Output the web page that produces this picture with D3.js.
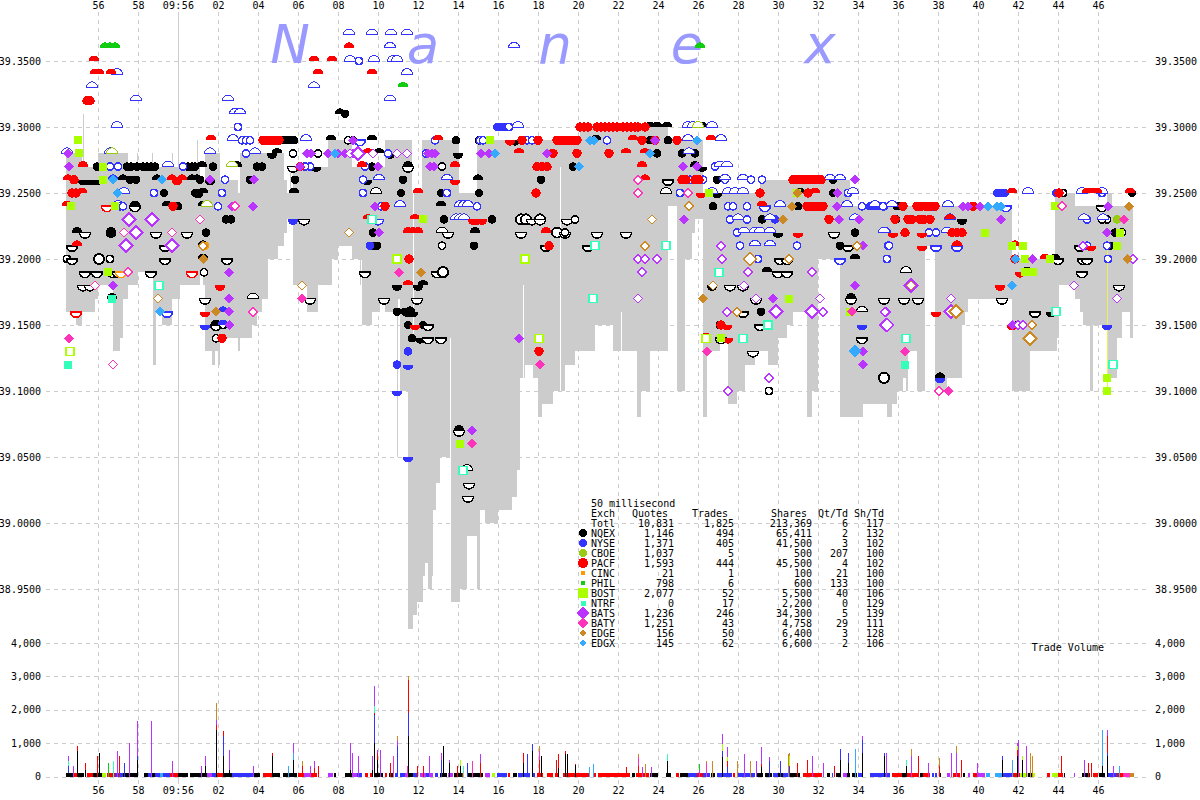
<!DOCTYPE html>
<html><head><meta charset="utf-8"><style>
html,body{margin:0;padding:0;background:#fff}
svg{display:block}
text{font-family:"DejaVu Sans Mono",monospace;font-size:10px;fill:#000}
</style>
<script src="https://cdn.jsdelivr.net/npm/d3@7/dist/d3.min.js"></script></head><body><svg id="c" width="1200" height="800"></svg>
<script>
// x data unit: 50 ms buckets, y data unit: cents above 39.00
const priceTicks=[39.35,39.30,39.25,39.20,39.15,39.10,39.05,39.00,38.95];
const volumeTicks=[0,1000,2000,3000,4000];
const timeTickLabels=["56","58","09:56","02","04","06","08","10","12","14","16","18","20","22","24","26","28","30","32","34","36","38","40","42","44","46"];
const timeTickBuckets=[38,78,118,158,198,238,278,318,358,398,438,478,518,558,598,638,678,718,758,798,838,878,918,958,998,1038];
const brandLetters=["N","a","n","e","x"];
const brandBuckets=[230,363,495,627,760];

const bandStart=[6,16,22,35,38,53,60,63,68,78,93,96,102,112,120,140,143,145,152,155,158,160,178,180,192,197,202,208,218,224,227,233,247,258,268,272,278,292,302,312,320,325,338,340,348,352,353,357,362,363,365,368,372,373,376,380,385,390,399,400,407,417,418,420,425,438,452,457,460,465,473,478,482,493,505,515,520,535,553,577,581,590,608,617,625,632,635,643,647,660,668,677,685,695,700,708,718,727,733,747,752,758,767,780,790,803,820,827,832,837,843,846,848,857,865,875,887,902,905,908,952,970,990,995,997,999,1015,1020,1023,1030,1033,1047,1052,1057,1062,1070];
const bandHigh=[28,28,27,27,28,28,28,28,27,27,27,27,27,27,27,26,26,28,28,28,28,26,25,28,28,28,28,28,28,26,25,27,27,27,29,29,29,27,27,27,27,29,29,29,29,25,25,25,29,29,29,29,29,29,29,29,29,29,25,25,25,25,29,29,29,29,29,29,29,29,29,29,29,29,29,29,30,30,30,30,30,30,29,29,29,29,29,25,25,25,25,25,25,25,26,26,26,26,26,26,26,26,26,26,24,24,24,24,24,24,24,24,24,24,24,24,24,24,24,24,20,20,20,25,25,25,24,24,24,24,24,25,24,24,24,24];
const bandLow=[16,15,16,17,18,13,14,17,18,19,12,16,15,17,18,19,18,13,12,13,12,14,13,14,15,16,17,20,21,22,23,18,16,18,18,20,21,20,15,16,17,16,17,10,-8,-8,-7,-6,-6,-4,-3,-5,-4,1,3,5,5,-6,-6,-5,-1,-5,-5,1,0,1,2,4,11,12,11,8,9,10,12,13,13,15,13,8,10,13,24,10,20,22,23,8,13,14,9,10,12,13,13,12,14,15,16,8,10,20,20,8,8,9,9,8,9,10,11,10,13,10,21,10,11,15,16,17,10,13,13,13,14,18,17,16,15,10,15,11,11,14,16,14];
const spikeBucket=[23,77,92,112,137,337,230,300,417];
const spikeHigh=[31,28,28,28,29,29,27,27,29];
const spikeLow=[27,26,26,26,26,5,24,18,18];
const gapBucket=[390,463,353,500,561];
const gapHigh=[14,18,25,27,16];
const gapLow=[-6,11,14,10,9];
const highlightBucket=[1047];
const highlightHigh=[21];
const highlightLow=[10];

const NQEX=[[222,29,'f'],[226,29,'f'],[230,29,'f'],[234,29,'f'],[271,29,'u'],[293,29,'o'],[233,28,'o'],[258,28,'o'],[212,28,'d'],[217,28,'u'],[37,27,'f'],[67,27,'f'],[71,27,'f'],[77,27,'f'],[83,27,'f'],[87,27,'f'],[91,27,'f'],[95,27,'f'],[128,27,'f'],[132,27,'f'],[135,27,'f'],[142,27,'u'],[153,27,'f'],[177,27,'u'],[197,27,'f'],[202,27,'f'],[233,27,'D'],[256,27,'d'],[23,26,'d'],[27,26,'d'],[30,26,'d'],[34,26,'d'],[37,26,'d'],[63,26,'u'],[70,26,'f'],[76,26,'f'],[97,26,'u'],[117,26,'d'],[132,26,'u'],[137,26,'u'],[140,26,'f'],[150,26,'d'],[190,26,'f'],[235,26,'f'],[135,25,'f'],[139,25,'f'],[143,25,'u'],[104,25,'f'],[234,25,'u'],[138,25,'d'],[75,24,'u'],[75,24,'D'],[107,24,'u'],[118,24,'f'],[143,24,'u'],[166,23,'f'],[171,23,'f'],[244,23,'D'],[17,22,'u'],[25,22,'D'],[51,22,'u'],[51,22,'d'],[96,22,'D'],[127,22,'D'],[146,22,'f'],[12,21,'D'],[105,21,'D'],[143,21,'u'],[7,20,'o'],[12,20,'D'],[39,20,'R'],[50,20,'o'],[105,20,'D'],[143,20,'u'],[167,20,'D'],[25,19,'D'],[37,19,'D'],[53,19,'D'],[58,19,'D'],[91,19,'D'],[144,19,'o'],[23,18,'D'],[30,18,'D'],[52,17,'u'],[145,17,'D'],[193,17,'U'],[250,17,'D'],[156,15,'u'],[156,15,'D'],[163,15,'o'],[156,14,'o'],
[285,31,'f'],[280,31,'u'],[288,29,'o'],[312,29,'u'],[396,29,'f'],[419,29,'o'],[450,29,'d'],[455,29,'d'],[536,29,'u'],[319,28,'u'],[330,28,'d'],[398,28,'d'],[312,27,'f'],[348,27,'u'],[348,27,'D'],[382,27,'o'],[513,27,'f'],[307,26,'d'],[343,26,'f'],[418,26,'u'],[481,26,'f'],[316,25,'U'],[341,25,'f'],[381,25,'f'],[419,25,'f'],[381,24,'u'],[384,23,'f'],[432,23,'f'],[461,23,'R'],[466,23,'R'],[472,23,'D'],[480,23,'R'],[480,23,'D'],[507,23,'D'],[515,23,'o'],[313,22,'f'],[382,22,'U'],[388,22,'D'],[415,22,'u'],[461,22,'D'],[497,22,'R'],[505,22,'D'],[505,22,'o'],[537,22,'D'],[566,22,'D'],[313,21,'f'],[317,21,'f'],[382,21,'o'],[414,21,'f'],[486,21,'D'],[528,21,'D'],[305,19,'D'],[377,19,'D'],[383,19,'R'],[358,18,'d'],[363,18,'u'],[337,18,'d'],[324,17,'D'],[357,17,'D'],[337,16,'f'],[348,16,'d'],[353,16,'d'],[350,16,'u'],[350,16,'d'],[345,16,'f'],[348,15,'f'],[363,15,'f'],[368,15,'D'],[352,14,'f'],[360,14,'d'],[368,14,'D'],[381,14,'D'],[399,7,'u'],[399,7,'D'],[407,4,'U'],[409,3,'D'],[408,2,'D'],
[590,30,'u'],[597,30,'u'],[607,30,'u'],[642,30,'u'],[590,29,'f'],[608,29,'f'],[597,28,'f'],[622,28,'f'],[635,28,'f'],[642,27,'d'],[635,27,'u'],[608,26,'D'],[657,26,'f'],[773,26,'f'],[740,26,'f'],[606,25,'U'],[657,25,'d'],[740,25,'u'],[773,25,'f'],[653,24,'f'],[738,24,'f'],[837,24,'f'],[702,23,'f'],[718,22,'d'],[795,22,'f'],[774,22,'D'],[780,21,'f'],[788,21,'D'],[795,20,'u'],[720,20,'D'],[727,20,'D'],[780,20,'D'],[707,19,'u'],[718,19,'D'],[727,19,'D'],[652,18,'d'],[670,18,'D'],[683,18,'D'],[696,17,'D'],[791,17,'u'],[791,17,'D'],[824,17,'D'],[683,16,'D'],[701,16,'f'],[802,16,'U'],[660,15,'o'],[700,15,'D'],[707,15,'o'],[661,14,'D'],[802,14,'D'],[693,13,'D'],[824,11,'R'],[709,10,'o'],
[838,24,'f'],[836,23,'f'],[902,23,'d'],[846,19,'U'],[844,17,'D'],[858,17,'D'],[942,17,'D'],[975,16,'D'],[991,16,'d'],[957,15,'f'],[963,15,'f'],[880,11,'u'],[995,20,'u'],[998,20,'D'],[1023,20,'D'],[1027,20,'D'],[1022,19,'D'],[967,19,'u'],[1042,24,'D'],[1003,25,'o'],[1072,25,'f'],[1047,23,'o'],[1042,23,'o'],[1055,22,'f'],[1062,22,'o'],[1050,21,'f'],[1020,21,'D'],[1059,18,'D']];
const NYSE=[[32,33,'U'],[76,32,'U'],[168,32,'U'],[175,31,'U'],[180,31,'U'],[178,30,'o'],[57,34,'U'],[57,30,'U'],[254,33,'U'],[173,29,'U'],[182,29,'o'],[186,29,'o'],[190,29,'o'],[246,29,'U'],[7,28,'U'],[50,28,'U'],[150,28,'U'],[186,28,'o'],[195,28,'U'],[50,27,'o'],[58,27,'o'],[108,27,'U'],[123,27,'o'],[250,27,'o'],[245,27,'o'],[53,26,'u'],[165,26,'o'],[64,25,'U'],[94,25,'o'],[162,25,'o'],[58,24,'U'],[60,24,'o'],[63,24,'o'],[158,24,'o'],[233,23,'d'],[107,16,'D'],[163,16,'u'],[145,15,'d'],[163,15,'u'],
[289,37,'U'],[312,37,'U'],[331,37,'U'],[347,37,'U'],[330,36,'U'],[454,36,'U'],[290,35,'U'],[299,35,'o'],[314,35,'U'],[333,35,'U'],[337,35,'U'],[347,34,'U'],[330,32,'U'],[437,30,'f'],[441,30,'f'],[445,30,'f'],[449,30,'o'],[458,30,'U'],[563,30,'o'],[300,29,'D'],[375,29,'o'],[420,29,'o'],[423,29,'o'],[467,29,'o'],[472,29,'o'],[547,29,'o'],[328,28,'o'],[366,28,'o'],[305,27,'o'],[303,26,'o'],[319,26,'U'],[387,26,'U'],[303,25,'o'],[387,25,'o'],[321,24,'o'],[340,24,'U'],[400,24,'U'],[404,24,'U'],[408,24,'U'],[417,24,'o'],[318,23,'D'],[396,23,'U'],[400,23,'U'],[404,23,'U'],[310,21,'f'],[348,13,'f'],[337,12,'f'],[348,12,'d'],[337,10,'d'],[348,5,'d'],
[628,30,'U'],[633,30,'U'],[652,30,'U'],[628,29,'U'],[661,29,'U'],[629,28,'U'],[655,27,'o'],[660,27,'U'],[667,27,'U'],[630,26,'o'],[643,26,'o'],[665,26,'o'],[665,26,'U'],[683,26,'U'],[691,26,'o'],[702,26,'o'],[770,26,'U'],[780,26,'U'],[620,25,'o'],[652,25,'U'],[668,25,'U'],[675,25,'U'],[683,25,'U'],[788,25,'o'],[793,25,'U'],[668,24,'o'],[673,24,'o'],[687,24,'o'],[720,24,'U'],[787,24,'U'],[705,24,'D'],[802,24,'o'],[810,24,'f'],[814,24,'f'],[818,24,'f'],[822,24,'f'],[824,24,'o'],[815,24,'U'],[670,23,'o'],[687,23,'o'],[678,23,'U'],[715,23,'f'],[710,23,'U'],[795,23,'U'],[677,22,'o'],[684,22,'U'],[695,22,'U'],[700,22,'U'],[710,22,'U'],[825,22,'U'],[680,21,'o'],[695,21,'U'],[710,21,'U'],[737,21,'o'],[828,21,'o'],[698,20,'o'],[780,20,'D'],[827,20,'o'],[802,15,'d'],
[937,25,'f'],[941,25,'f'],[945,25,'f'],[968,25,'U'],[996,25,'f'],[1022,25,'U'],[1042,25,'o'],[1042,25,'U'],[823,24,'o'],[832,24,'U'],[872,24,'o'],[888,24,'U'],[946,24,'D'],[890,23,'U'],[1027,23,'o'],[1043,23,'U'],[1024,23,'U'],[824,22,'U'],[869,22,'o'],[876,22,'o'],[887,22,'U'],[829,21,'o'],[876,21,'D'],[897,21,'D'],[1027,21,'o'],[1047,21,'o'],[827,20,'o'],[1048,20,'o'],[1047,15,'d'],[880,11,'d']];
const CBOE=[[52,28,'U'],[172,27,'U'],[147,24,'U'],[638,30,'U'],[1057,23,'f']];
const PACF=[[34,35,'u'],[254,35,'u'],[272,35,'u'],[35,34,'u'],[39,34,'u'],[51,34,'u'],[258,34,'u'],[27,32,'f'],[30,32,'f'],[151,29,'u'],[203,29,'f'],[207,29,'f'],[211,29,'f'],[215,29,'f'],[219,29,'f'],[23,27,'u'],[240,27,'f'],[8,26,'u'],[14,26,'f'],[112,26,'u'],[117,26,'d'],[122,26,'u'],[12,25,'f'],[16,25,'f'],[22,25,'u'],[7,24,'u'],[113,24,'f'],[47,24,'D'],[17,21,'u'],[132,19,'D'],[160,18,'d'],[16,16,'D'],[145,16,'d'],[162,14,'f'],
[289,36,'u'],[312,34,'u'],[520,30,'f'],[524,30,'f'],[528,30,'f'],[537,30,'f'],[541,30,'f'],[545,30,'f'],[549,30,'f'],[553,30,'f'],[557,30,'f'],[563,30,'f'],[567,30,'f'],[571,30,'f'],[575,30,'f'],[578,30,'f'],[378,29,'u'],[450,29,'d'],[462,29,'f'],[478,29,'f'],[497,29,'f'],[501,29,'f'],[505,29,'f'],[509,29,'f'],[513,29,'f'],[517,29,'f'],[573,29,'u'],[308,28,'u'],[459,28,'u'],[493,28,'f'],[517,28,'f'],[549,28,'f'],[566,28,'u'],[302,27,'u'],[395,27,'u'],[477,27,'f'],[482,27,'f'],[487,27,'f'],[395,26,'d'],[358,25,'u'],[476,25,'f'],[325,24,'f'],[308,23,'u'],[355,23,'u'],[413,23,'d'],[417,23,'d'],[422,23,'d'],[348,22,'u'],[353,22,'u'],[358,22,'u'],[486,22,'u'],[489,21,'f'],[349,20,'f'],[348,18,'u'],[355,15,'d'],[479,13,'f'],
[585,30,'f'],[582,29,'f'],[595,29,'f'],[617,29,'f'],[651,29,'u'],[585,28,'u'],[582,27,'u'],[585,26,'u'],[622,26,'f'],[626,26,'f'],[635,26,'f'],[639,26,'f'],[733,26,'f'],[737,26,'f'],[741,26,'f'],[745,26,'f'],[749,26,'f'],[753,26,'f'],[757,26,'f'],[761,26,'f'],[641,25,'d'],[700,25,'f'],[748,25,'f'],[755,25,'u'],[702,24,'u'],[747,24,'f'],[751,24,'f'],[755,24,'f'],[759,24,'f'],[763,24,'f'],[769,23,'f'],[835,23,'f'],[738,22,'d'],[833,22,'d'],[667,15,'d'],[661,15,'f'],[668,14,'d'],[646,14,'u'],
[952,25,'u'],[999,25,'f'],[1027,25,'u'],[1032,25,'u'],[1037,25,'u'],[1070,25,'u'],[843,24,'f'],[857,24,'f'],[861,24,'f'],[866,24,'f'],[870,24,'f'],[875,24,'f'],[913,24,'f'],[848,23,'f'],[852,23,'f'],[860,23,'f'],[864,23,'f'],[870,23,'f'],[890,23,'u'],[833,22,'d'],[845,22,'f'],[862,22,'d'],[892,22,'f'],[897,22,'f'],[902,22,'f'],[862,21,'d'],[897,21,'u'],[955,21,'u'],[1031,21,'d'],[955,20,'f'],[985,20,'u'],[960,19,'d'],[940,18,'d'],[876,16,'d'],[952,15,'d']];
const CINC=[[61,19,'D'],[145,21,'f']];
const PHIL=[[45,36,'u'],[50,36,'u'],[55,36,'u'],[343,33,'u'],[640,36,'u']];
const BOST=[[19,28,'f'],[18,29,'f'],[43,27,'f'],[43,26,'f'],[11,24,'f'],[55,24,'f'],[48,19,'f'],[10,13,'o'],[430,29,'f'],[363,23,'f'],[337,20,'o'],[465,20,'o'],[400,6,'f'],[479,14,'o'],[649,25,'f'],[737,25,'f'],[729,17,'f'],[790,16,'f'],[646,14,'o'],[661,14,'f'],[925,22,'f'],[995,24,'f'],[952,21,'f'],[963,21,'f'],[965,20,'f'],[990,20,'f'],[965,19,'f'],[973,19,'f'],[1057,21,'f'],[1047,11,'f'],[1047,10,'f'],[1060,22,'f']];
const NTRF=[[52,17,'f'],[8,12,'f'],[99,18,'o'],[312,23,'o'],[403,4,'o'],[535,21,'o'],[533,17,'o'],[606,21,'o'],[659,19,'o'],[708,15,'o'],[683,14,'o'],[846,14,'o'],[845,12,'f'],[996,16,'o'],[1053,12,'o']];
const BATS=[[8,28,'f'],[9,27,'f'],[194,26,'f'],[172,24,'f'],[193,24,'f'],[169,19,'f'],[53,18,'f'],[169,17,'f'],[169,16,'f'],[169,15,'f'],[240,27,'f'],[293,29,'f'],[247,28,'f'],[251,28,'f'],[268,28,'f'],[278,28,'f'],[293,28,'f'],[150,26,'f'],[459,14,'f'],[412,7,'f'],[92,23,'O'],[69,23,'O'],[76,22,'O'],[66,21,'O'],[112,21,'O'],
[285,28,'f'],[290,28,'o'],[298,28,'O'],[313,28,'o'],[337,28,'o'],[347,28,'o'],[368,28,'f'],[372,28,'f'],[375,28,'f'],[421,28,'f'],[429,28,'f'],[487,28,'f'],[318,27,'f'],[370,27,'f'],[374,27,'f'],[315,24,'f'],[319,22,'f'],[578,20,'o'],[578,17,'o'],
[595,29,'f'],[623,27,'f'],[637,27,'f'],[795,26,'f'],[777,24,'f'],[624,23,'f'],[779,23,'f'],[799,23,'f'],[777,25,'f'],[803,21,'f'],[661,21,'o'],[662,20,'o'],[585,20,'o'],[597,20,'o'],[582,19,'o'],[688,19,'o'],[752,19,'o'],[684,18,'o'],[795,18,'f'],[696,17,'o'],[760,17,'o'],[713,17,'f'],[667,16,'o'],[716,16,'O'],[752,16,'O'],[763,16,'o'],[826,16,'o'],[826,15,'O'],[803,13,'f'],[803,12,'f'],[709,11,'o'],[668,10,'o'],
[903,24,'f'],[908,24,'f'],[920,24,'f'],[1048,24,'f'],[941,23,'f'],[1047,22,'f'],[972,20,'f'],[1014,18,'o'],[851,18,'O'],[891,17,'o'],[1057,17,'o'],[891,16,'O'],[827,15,'O'],[952,15,'f'],[958,15,'o'],[963,15,'o'],[825,16,'o'],[1073,20,'o'],[1023,21,'o']];
const BATY=[[9,14,'f'],[53,12,'o'],[68,19,'o'],[175,24,'o'],[242,17,'f'],[140,23,'o'],[112,22,'o'],[64,22,'o'],[35,18,'o'],[193,16,'o'],[578,26,'o'],[578,25,'o'],[339,19,'f'],[480,12,'f'],[412,6,'f'],[628,25,'o'],[647,13,'f'],[792,16,'f'],[845,13,'f'],[879,10,'o'],[888,10,'f'],[1002,24,'o'],[1064,23,'f']];
const EDGE=[[143,20,'f'],[289,22,'o'],[242,18,'o'],[98,17,'o'],[143,21,'o'],[156,16,'f'],[361,19,'f'],[592,23,'o'],[585,21,'o'],[737,25,'f'],[732,24,'f'],[653,18,'o'],[723,23,'f'],[629,24,'o'],[690,20,'O'],[729,20,'o'],[643,17,'f'],[677,16,'o'],[797,21,'o'],[851,18,'o'],[896,16,'O'],[972,15,'o'],[970,14,'O'],[1069,24,'f'],[1067,20,'f']];
const EDGX=[[275,28,'f'],[57,25,'f'],[53,26,'f'],[102,26,'f'],[435,28,'f'],[100,16,'f'],[530,29,'f'],[534,29,'f'],[519,27,'f'],[637,29,'f'],[590,28,'f'],[795,13,'L'],[928,24,'f'],[937,24,'f'],[941,24,'f'],[952,18,'f'],[955,20,'f']];

const legendExch=["NQEX","NYSE","CBOE","PACF","CINC","PHIL","BOST","NTRF","BATS","BATY","EDGE","EDGX"];
const legendQuotes=["1,146","1,371","1,037","1,593","21","798","2,077","0","1,236","1,251","156","145"];
const legendTrades=["494","405","5","444","1","6","52","17","246","43","50","62"];
const legendShares=["65,411","41,500","500","45,500","100","600","5,500","2,200","34,300","4,758","6,400","6,600"];
const legendQtTd=["2","3","207","4","21","133","40","0","5","29","3","2"];
const legendShTd=["132","102","100","102","100","100","106","129","139","111","128","106"];
const totalRow=["Totl","10,831","1,825","213,369","6","117"];

const exColor={NQEX:"#000000",NYSE:"#3333ff",CBOE:"#99cc11",PACF:"#ff0000",CINC:"#ff9900",PHIL:"#11cc11",BOST:"#aaff00",NTRF:"#33ffbb",BATS:"#bb33ff",BATY:"#ff33bb",EDGE:"#cc8822",EDGX:"#33aaff"};
const exShape={NQEX:"c",NYSE:"c",CBOE:"c",PACF:"c",CINC:"c",PHIL:"c",BOST:"s",NTRF:"s",BATS:"d",BATY:"d",EDGE:"d",EDGX:"d"};
const legendSize={NQEX:4,NYSE:4,CBOE:4,PACF:5,CINC:2.5,PHIL:2.5,BOST:5,NTRF:2.5,BATS:6.5,BATY:5.5,EDGE:3.5,EDGX:3.5};

// baseline 100-share runs: start, end, exchange
const baseRuns=[[6,13,"NQEX"],[13,17,"PACF"],[17,24,"NQEX"],[27,33,"PACF"],[33,42,"NQEX"],[42,46,"BOST"],[47,55,"PACF"],[55,63,"NYSE"],[63,78,"NQEX"],[84,88,"NQEX"],[88,92,"NYSE"],[92,95,"NQEX"],[95,100,"NYSE"],[100,103,"EDGX"],[103,110,"NYSE"],[110,118,"PACF"],[118,128,"NQEX"],[130,133,"NQEX"],[133,140,"NQEX"],[140,147,"NQEX"],[147,152,"BATS"],[152,157,"NYSE"],[157,163,"PACF"],[163,172,"NQEX"],[172,193,"NYSE"],[193,200,"NQEX"],[203,212,"PACF"],[212,220,"NQEX"],[223,237,"NQEX"],[238,244,"PACF"],[244,250,"BATS"],[250,257,"PACF"],[258,259,"PACF"],[268,273,"BATS"],[274,276,"NQEX"],[285,292,"NQEX"],[292,297,"BATS"],[297,302,"NYSE"],[305,308,"PACF"],[310,313,"PACF"],[315,323,"NQEX"],[325,327,"PACF"],[329,333,"NQEX"],[335,338,"NYSE"],[340,345,"NYSE"],[345,347,"BATS"],[347,353,"NQEX"],[353,357,"NYSE"],[360,366,"BATS"],[366,370,"NYSE"],[370,373,"BATS"],[375,378,"NYSE"],[380,387,"NQEX"],[388,393,"BATS"],[394,402,"NQEX"],[402,404,"PACF"],[407,412,"NQEX"],[413,420,"NQEX"],[421,423,"NQEX"],[425,430,"BATS"],[432,435,"BOST"],[437,447,"NYSE"],[448,450,"PACF"],[453,457,"NQEX"],[458,463,"NYSE"],[463,470,"NYSE"],[473,475,"NYSE"],[477,483,"PACF"],[487,493,"PACF"],[495,498,"PACF"],[503,512,"PACF"],[512,530,"PACF"],[533,536,"PACF"],[538,570,"PACF"],[572,575,"NQEX"],[576,589,"PACF"],[590,598,"NQEX"],[606,611,"NQEX"],[616,619,"PACF"],[620,628,"NQEX"],[628,637,"NYSE"],[637,643,"PACF"],[643,650,"NYSE"],[651,655,"NQEX"],[657,672,"NYSE"],[673,675,"PACF"],[678,695,"NYSE"],[697,703,"NQEX"],[705,712,"NQEX"],[713,718,"NYSE"],[718,723,"NQEX"],[723,730,"NYSE"],[730,740,"NQEX"],[743,747,"PACF"],[748,762,"PACF"],[767,770,"NQEX"],[772,773,"NYSE"],[776,780,"NQEX"],[783,787,"BATS"],[787,790,"NQEX"],[792,797,"NQEX"],[798,803,"NYSE"],[810,823,"NYSE"],[823,830,"NYSE"],[832,842,"PACF"],[842,847,"NQEX"],[847,858,"PACF"],[860,863,"NQEX"],[863,870,"PACF"],[872,874,"NYSE"],[875,877,"NYSE"],[879,881,"NQEX"],[887,890,"BATS"],[893,900,"PACF"],[903,905,"NQEX"],[908,910,"BATS"],[913,918,"PACF"],[918,925,"BATS"],[926,930,"EDGX"],[935,942,"EDGX"],[942,952,"NYSE"],[953,960,"PACF"],[960,963,"BOST"],[963,968,"BOST"],[968,972,"NQEX"],[972,975,"BOST"],[987,990,"PACF"],[992,998,"BOST"],[998,1003,"PACF"],[1004,1005,"NQEX"],[1014,1015,"BATS"],[1022,1030,"NQEX"],[1033,1038,"PACF"],[1039,1045,"NQEX"],[1047,1057,"NYSE"],[1057,1063,"PACF"],[1063,1070,"BATY"],[1070,1074,"EDGE"]];
// taller columns: bucket, then [exchange, cumulative shares] from the bottom
const volumeColumns=[
[8,["NQEX",100],["NYSE",300],["NTRF",450],["BATS",600]],[13,["BATS",300]],[17,["NQEX",750],["PACF",900]],[25,["NQEX",200],["PACF",400]],[37,["PACF",600]],[39,["NQEX",700]],[48,["PHIL",400]],[53,["NTRF",450]],[57,["BATS",750]],[59,["PACF",600]],[64,["NYSE",400]],[69,["BATS",1000]],[77,["NQEX",500],["NYSE",600],["BATS",1670]],[91,["BATS",1670]],[112,["BATS",470]],[141,["BATS",300]],[145,["NQEX",300],["BATS",600]],[156,["NQEX",1400],["PACF",1550],["BATS",1700],["EDGE",2200]],[163,["NQEX",600],["NYSE",1200],["PACF",1370]],[169,["NQEX",200],["BATS",780]],[193,["BATS",300]],[212,["NQEX",600],["PACF",700]],[228,["EDGX",300]],[233,["NQEX",500],["EDGX",700],["BATS",1000]],[242,["PACF",300],["EDGE",470]],[250,["BATS",300]],[254,["PACF",250],["BATS",470]],[258,["PACF",300]],[290,["NQEX",200],["BATS",1000]],[292,["BATS",700]],[298,["BATS",600]],[312,["NQEX",200],["BATS",600]],[314,["NQEX",1000],["NYSE",1850],["PACF",1900],["NTRF",2100],["BATS",2700]],[317,["NQEX",500],["PACF",700],["BATS",800]],[320,["BATS",800]],[330,["PACF",400]],[333,["BATY",600]],[337,["NYSE",900],["BATS",1050],["EDGE",1200]],[347,["BATY",300]],[348,["NQEX",1200],["NYSE",1900],["PACF",2900],["EDGE",3000]],[357,["PACF",300]],[363,["PACF",300]],[369,["BATS",600]],
[383,["NQEX",900]],[381,["NYSE",500],["BATS",700]],[389,["NQEX",400],["BATS",500]],[397,["PACF",300]],[400,["NQEX",300],["BOST",500]],[403,["NTRF",300]],[407,["NYSE",400]],[412,["BATY",470]],[420,["PACF",400],["BATS",680]],[463,["NQEX",400],["PACF",700]],[467,["NYSE",680]],[472,["NQEX",770],["NYSE",980]],[479,["PACF",500],["BATY",750],["EDGE",900]],[481,["NQEX",600]],[496,["PACF",500]],[498,["NQEX",250],["PACF",680]],[505,["NQEX",680],["PACF",770]],[507,["NQEX",680]],[515,["NQEX",350],["PACF",380]],[529,["EDGX",280]],[533,["EDGX",370]],[566,["PACF",280]],[578,["PACF",300],["BATY",580],["EDGE",680]],[582,["BATS",280]],[585,["EDGE",380]],[591,["BATS",280]],[607,["NQEX",470],["NTRF",680]],[639,["BATS",200],["PHIL",380]],[646,["BATY",400],["EDGE",470]],[652,["EDGE",470]],[662,["NQEX",580],["NYSE",770],["BOST",980],["BATS",1280]],[667,["NYSE",280],["PACF",470],["BOST",580],["BATS",890]],[677,["EDGE",470]],[684,["BATS",680]],[690,["EDGE",470]],[696,["BATS",470]],[701,["NQEX",280],["PACF",380],["BATS",890]],[709,["NYSE",470],["BATS",580]],[720,["NYSE",470]],[728,["EDGE",680]],
[729,["NYSE",300],["BOST",610],["EDGE",710]],[737,["PACF",410]],[747,["PACF",500]],[752,["BATS",610]],[763,["BATS",410]],[774,["PACF",310]],[780,["NQEX",500],["NYSE",810]],[788,["NQEX",410],["NYSE",710]],[795,["EDGX",810]],[802,["NQEX",710],["NYSE",1100],["BATS",1220]],[824,["NQEX",610],["NYSE",710]],[826,["BATS",710]],[846,["NQEX",300],["NTRF",500]],[851,["BATS",610],["EDGE",810]],[858,["PACF",610]],[868,["BATS",410]],[879,["PACF",300],["EDGE",560]],[891,["BATS",710]],[896,["BATS",710],["EDGE",920]],[901,["PACF",500]],[917,["BATS",410]],[942,["NQEX",500],["NYSE",610]],[952,["EDGX",500]],[957,["NQEX",610],["PACF",800],["BOST",910],["BATS",1000]],[958,["BATS",1100]],[962,["NQEX",500],["BOST",610]],[966,["BATS",920]],[970,["EDGE",710]],[972,["EDGE",610]],[1001,["PACF",610]],[1024,["BATS",500]],[1028,["PACF",410]],[1031,["PACF",410]],[1042,["NQEX",300],["EDGX",1400]],[1047,["NQEX",600],["NYSE",710],["PACF",1200],["BOST",1200],["BATS",1400]],[1053,["BATS",310]],[1059,["EDGX",310]]];

const svg=d3.select("#c");
const x=d3.scaleLinear().domain([0,1080]).range([60,1140]);
const price=d3.scaleLinear().domain([38.95,39.35]).range([589,61]);
const yc=c=>price(39+c/100);
const vol=d3.scaleLinear().domain([0,4000]).range([776.5,643]);
const gridCol="#cccccc";
const dash="4 4";

function styleAxis(g){g.select(".domain").remove();g.selectAll("text").attr("font-family",null).attr("font-size",null);g.attr("font-family",null).attr("font-size",null).attr("fill",null);g.selectAll("text").style("fill","#000")}
function gridLines(g){g.selectAll("line").attr("stroke",gridCol).attr("stroke-dasharray",dash).attr("shape-rendering","crispEdges")}

const yGridPrice=svg.append("g").attr("transform","translate(46,0)")
  .call(d3.axisLeft(price).tickValues(priceTicks).tickFormat(d3.format(".4f")).tickSize(-1104).tickPadding(5));
styleAxis(yGridPrice);gridLines(yGridPrice);
const yRightPrice=svg.append("g").attr("transform","translate(1150,0)")
  .call(d3.axisRight(price).tickValues(priceTicks).tickFormat(d3.format(".4f")).tickSize(0).tickPadding(5));
styleAxis(yRightPrice);
const yGridVol=svg.append("g").attr("transform","translate(46,0)")
  .call(d3.axisLeft(vol).tickValues(volumeTicks).tickFormat(d3.format(",")).tickSize(-1104).tickPadding(5));
styleAxis(yGridVol);gridLines(yGridVol);
const yRightVol=svg.append("g").attr("transform","translate(1150,0)")
  .call(d3.axisRight(vol).tickValues(volumeTicks).tickFormat(d3.format(",")).tickSize(0).tickPadding(5));
styleAxis(yRightVol);

const labelOf=b=>timeTickLabels[timeTickBuckets.indexOf(b)];
const xTop=svg.append("g").attr("transform","translate(0,12)")
  .call(d3.axisTop(x).tickValues(timeTickBuckets).tickFormat(labelOf).tickSize(0).tickPadding(3));
styleAxis(xTop);
const xBottom=svg.append("g").attr("transform","translate(0,784)")
  .call(d3.axisBottom(x).tickValues(timeTickBuckets).tickFormat(labelOf).tickSize(-772).tickPadding(3));
styleAxis(xBottom);gridLines(xBottom);
xBottom.selectAll(".tick").filter(d=>labelOf(d)==="09:56").select("line").attr("stroke-dasharray",null);
xTop.selectAll("text").filter(d=>labelOf(d)==="09:56").style("letter-spacing","0.3px");
xBottom.selectAll("text").filter(d=>labelOf(d)==="09:56").style("letter-spacing","0.3px");

svg.append("g").selectAll("text").data(brandLetters).join("text")
  .attr("x",(d,i)=>x(brandBuckets[i])).attr("y",63).attr("text-anchor","middle")
  .style("font-family","'DejaVu Sans',sans-serif").style("font-style","italic").style("font-size","53px").style("fill","#9999ff").text(d=>d);

const segs=bandStart.map((s,i)=>({s,e:i+1<bandStart.length?bandStart[i+1]:1073,h:bandHigh[i],l:bandLow[i]}));
svg.append("g").attr("fill","#cccccc").attr("shape-rendering","crispEdges").selectAll("rect").data(segs).join("rect")
  .attr("x",d=>x(d.s)).attr("width",d=>x(d.e)-x(d.s)).attr("y",d=>yc(d.h)).attr("height",d=>yc(d.l)-yc(d.h));
svg.append("g").attr("stroke","#cccccc").attr("shape-rendering","crispEdges").selectAll("line").data(spikeBucket).join("line")
  .attr("x1",d=>x(d)).attr("x2",d=>x(d)).attr("y1",(d,i)=>yc(spikeHigh[i])).attr("y2",(d,i)=>yc(spikeLow[i]));
svg.append("g").attr("stroke","#ffffff").attr("shape-rendering","crispEdges").selectAll("line").data(gapBucket).join("line")
  .attr("x1",d=>x(d)).attr("x2",d=>x(d)).attr("y1",(d,i)=>yc(gapHigh[i])).attr("y2",(d,i)=>yc(gapLow[i]));
svg.append("g").attr("stroke","#eeee55").attr("shape-rendering","crispEdges").selectAll("line").data(highlightBucket).join("line")
  .attr("x1",d=>x(d)).attr("x2",d=>x(d)).attr("y1",(d,i)=>yc(highlightHigh[i])).attr("y2",(d,i)=>yc(highlightLow[i]));

const vg=svg.append("g").attr("shape-rendering","crispEdges");
vg.selectAll("rect.base").data(baseRuns).join("rect").attr("class","base")
  .attr("x",d=>x(d[0])).attr("width",d=>x(d[1])-x(d[0])).attr("y",vol(100)).attr("height",vol(0)-vol(100)).attr("fill",d=>exColor[d[2]]);
volumeColumns.forEach(col=>{
  const b=col[0];let prev=0;
  col.slice(1).forEach(p=>{
    vg.append("rect").attr("x",x(b)).attr("width",x(1)-x(0)).attr("y",vol(p[1])).attr("height",vol(prev)-vol(p[1])).attr("fill",exColor[p[0]]);
    prev=p[1];
  });
});

const R={c:d=>d==="PACF"?4.7:4.3,d:d=>5,s:d=>4};
function dPath(sh,r){
  if(sh==="s")return `M${-r},${-r}H${r}V${r}H${-r}Z`;
  if(sh==="d")return `M0,${-r}L${r},0L0,${r}L${-r},0Z`;
  const p=d3.path();p.arc(0,0,r,0,2*Math.PI);p.closePath();return p.toString();
}
function draw(g,ex,k){
  const col=exColor[ex],sh=exShape[ex],dome=5.5;
  const p=g.append("path").attr("shape-rendering","crispEdges");
  if(k==="u"||k==="U"){p.attr("d",`M${-dome},0A${dome},${dome} 0 0 1 ${dome},0Z`);p.attr("fill",k==="u"?col:"#fff").attr("stroke",k==="u"?"none":col);}
  else if(k==="d"||k==="D"){p.attr("d",`M${-dome},0A${dome},${dome} 0 0 0 ${dome},0Z`);p.attr("fill",k==="d"?col:"#fff").attr("stroke",k==="d"?"none":col).attr("stroke-width",k==="D"?1.5:0);}
  else if(k==="f"){p.attr("d",dPath(sh,R[sh](ex))).attr("fill",col);}
  else if(k==="L"){p.attr("d",dPath(sh,6.5)).attr("fill",col);}
  else if(k==="o"){p.attr("d",dPath(sh,sh==="c"?3.7:sh==="s"?4:4.5)).attr("fill","#fff").attr("stroke",col).attr("stroke-width",sh==="c"?1.5:1.2);}
  else if(k==="O"){p.attr("d",dPath(sh,6.5)).attr("fill","#fff").attr("stroke",col).attr("stroke-width",2);}
  else if(k==="R"){p.attr("d",dPath(sh,5)).attr("fill","#fff").attr("stroke",col).attr("stroke-width",2);}
}
const seriesByExch={NQEX,NYSE,CBOE,PACF,CINC,PHIL,BOST,NTRF,BATS,BATY,EDGE,EDGX};
const mg=svg.append("g");
legendExch.forEach(ex=>{
  mg.append("g").selectAll("g").data(seriesByExch[ex]).join("g")
    .attr("transform",d=>`translate(${x(d[0])},${yc(d[1])})`)
    .each(function(d){draw(d3.select(this),ex,d[2]);});
});

const lg=svg.append("g");
const lrow=d3.scaleLinear().domain([0,1]).range([506.5,516.5]);
const colRight=[674,734,812,848,884];
const put=(t,xp,row,anchor)=>lg.append("text").attr("x",xp).attr("y",lrow(row)).attr("text-anchor",anchor||"end").text(t);
put("50 millisecond",591,0,"start");
put("Exch",591,1,"start");put("Quotes",668,1);put("Trades",728,1);put("Shares",807,1);put("Qt/Td",848,1);put("Sh/Td",884,1);
totalRow.forEach((t,i)=>i===0?put(t,591,2,"start"):put(t,colRight[i-1],2));
legendExch.forEach((ex,i)=>{
  const r=i+3;
  put(ex,591,r,"start");
  put(legendQuotes[i],colRight[0],r);put(legendTrades[i],colRight[1],r);put(legendShares[i],colRight[2],r);put(legendQtTd[i],colRight[3],r);put(legendShTd[i],colRight[4],r);
  lg.append("path").attr("transform",`translate(583,${lrow(r)-3.5})`).attr("d",dPath(exShape[ex],legendSize[ex])).attr("fill",exColor[ex]).attr("shape-rendering","crispEdges");
});
lg.append("text").attr("x",1104).attr("y",651).attr("text-anchor","end").text("Trade Volume");
</script></body></html>
